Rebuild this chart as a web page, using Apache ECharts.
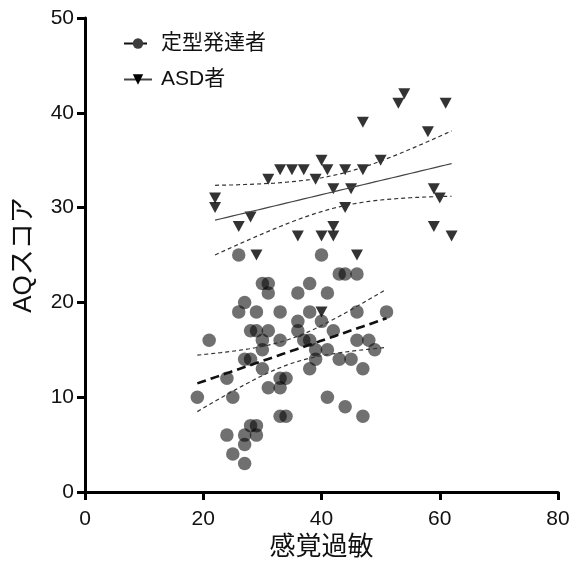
<!DOCTYPE html>
<html>
<head>
<meta charset="utf-8">
<script src="https://cdn.jsdelivr.net/npm/echarts@6/dist/echarts.min.js"></script>
<style>
  html, body { margin: 0; padding: 0; background: #fff; }
  #chart { width: 579px; height: 566px; }
</style>
</head>
<body>
<div id="chart"></div>
<script>
// 定型発達者 (感覚過敏, AQスコア)
const tdX = [26, 40, 43, 44, 46, 30, 31, 31, 38, 36, 41, 27, 26, 29, 33, 38, 46, 51, 36, 40,
             28, 29, 31, 36, 42, 21, 30, 33, 37, 38, 46, 48, 30, 39, 41, 49, 27, 28, 39, 43,
             45, 30, 38, 47, 24, 33, 34, 31, 33, 19, 25, 41, 44, 47, 33, 34, 28, 29, 29, 24,
             27, 27, 25, 27];
const tdY = [25, 25, 23, 23, 23, 22, 22, 21, 22, 21, 21, 20, 19, 19, 19, 19, 19, 19, 18, 18,
             17, 17, 17, 17, 17, 16, 16, 16, 16, 16, 16, 16, 15, 15, 15, 15, 14, 14, 14, 14,
             14, 13, 13, 13, 12, 12, 12, 11, 11, 10, 10, 10, 9, 8, 8, 8, 7, 7, 6, 6,
             6, 5, 4, 3];
// ASD者
const asdX = [22, 22, 26, 28, 29, 31, 33, 35, 37, 39, 40, 41, 36, 40, 42, 42, 42, 45, 44, 47,
              44, 46, 47, 50, 53, 54, 61, 58, 59, 60, 59, 62, 40];
const asdY = [31, 30, 28, 29, 25, 33, 34, 34, 34, 33, 35, 34, 27, 27, 28, 27, 32, 32, 34, 34,
              30, 25, 39, 35, 41, 42, 41, 38, 32, 31, 28, 27, 19];

const xAxisRange = [0, 80, 20];
const yAxisRange = [0, 50, 10];
const tCrit = { td: 2.00, asd: 2.04 }; // 95%信頼区間

// 回帰直線と95%信頼帯
function regression(xs, ys, t) {
  const n = xs.length;
  const mx = xs.reduce((s, v) => s + v, 0) / n;
  const my = ys.reduce((s, v) => s + v, 0) / n;
  let sxx = 0, sxy = 0;
  for (let i = 0; i < n; i++) {
    sxx += (xs[i] - mx) * (xs[i] - mx);
    sxy += (xs[i] - mx) * (ys[i] - my);
  }
  const b = sxy / sxx;
  const a = my - b * mx;
  let sse = 0;
  for (let i = 0; i < n; i++) sse += Math.pow(ys[i] - a - b * xs[i], 2);
  const s = Math.sqrt(sse / (n - 2));
  const x0 = Math.min(...xs), x1 = Math.max(...xs);
  const fit = [], lo = [], hi = [];
  const steps = 40;
  for (let k = 0; k <= steps; k++) {
    const x = x0 + (x1 - x0) * k / steps;
    const yh = a + b * x;
    const se = s * Math.sqrt(1 / n + (x - mx) * (x - mx) / sxx);
    fit.push([x, yh]);
    lo.push([x, yh - t * se]);
    hi.push([x, yh + t * se]);
  }
  return { fit, lo, hi };
}

const tdReg = regression(tdX, tdY, tCrit.td);
const asdReg = regression(asdX, asdY, tCrit.asd);

const font = "'Liberation Sans', 'Noto Sans CJK JP', sans-serif";
const myChart = echarts.init(document.getElementById('chart'));

function band(data) {
  return {
    type: 'line', data: data, showSymbol: false, silent: true, z: 5,
    lineStyle: { color: '#333', width: 1.2, type: [4, 3] }
  };
}

const option = {
  animation: false,
  backgroundColor: '#fff',
  grid: { left: 85, right: 21, top: 18, bottom: 74 },
  legend: {
    data: ['定型発達者', 'ASD者'],
    orient: 'vertical',
    left: 118,
    top: 28,
    itemWidth: 28,
    itemHeight: 13,
    itemGap: 15,
    textStyle: { fontFamily: font, fontSize: 21, color: '#111', padding: [0, 0, 0, 4] }
  },
  xAxis: {
    type: 'value',
    min: xAxisRange[0], max: xAxisRange[1], interval: xAxisRange[2],
    name: '感覚過敏',
    nameLocation: 'middle',
    nameGap: 42,
    nameTextStyle: { fontFamily: font, fontSize: 26, color: '#111' },
    axisLine: { lineStyle: { color: '#000', width: 3 } },
    axisTick: { length: 8, lineStyle: { width: 3, color: '#000' } },
    axisLabel: { fontFamily: font, fontSize: 21, color: '#111', margin: 17 },
    splitLine: { show: false }
  },
  yAxis: {
    type: 'value',
    min: yAxisRange[0], max: yAxisRange[1], interval: yAxisRange[2],
    name: 'AQスコア',
    nameLocation: 'middle',
    nameGap: 48,
    nameTextStyle: { fontFamily: font, fontSize: 26, color: '#111' },
    axisLine: { show: true, lineStyle: { color: '#000', width: 3 } },
    axisTick: { show: true, length: 8, lineStyle: { width: 3, color: '#000' } },
    axisLabel: { fontFamily: font, fontSize: 21, color: '#111', margin: 11 },
    splitLine: { show: false }
  },
  series: [
    {
      name: '定型発達者', type: 'line', data: tdReg.fit, showSymbol: false, z: 6,
      symbol: 'circle', symbolSize: 13,
      itemStyle: { color: '#3c3c3c' },
      lineStyle: { color: '#111', width: 2.6, type: [9, 5] }
    },
    {
      name: 'ASD者', type: 'line', data: asdReg.fit, showSymbol: false, z: 6,
      symbol: 'triangle', symbolRotate: 180, symbolSize: 11,
      itemStyle: { color: '#000' },
      lineStyle: { color: '#444', width: 1.2 }
    },
    band(tdReg.lo), band(tdReg.hi), band(asdReg.lo), band(asdReg.hi),
    {
      name: '定型発達者', type: 'scatter', z: 2,
      symbol: 'circle', symbolSize: 13.5,
      data: tdX.map((x, i) => [x, tdY[i]]),
      itemStyle: { color: 'rgba(0,0,0,0.7)' }
    },
    {
      name: 'ASD者', type: 'scatter', z: 3,
      symbol: 'triangle', symbolRotate: 180, symbolSize: [12, 11],
      data: asdX.map((x, i) => [x, asdY[i]]),
      itemStyle: { color: '#000' }
    }
  ]
};
myChart.setOption(option);
</script>
</body>
</html>
